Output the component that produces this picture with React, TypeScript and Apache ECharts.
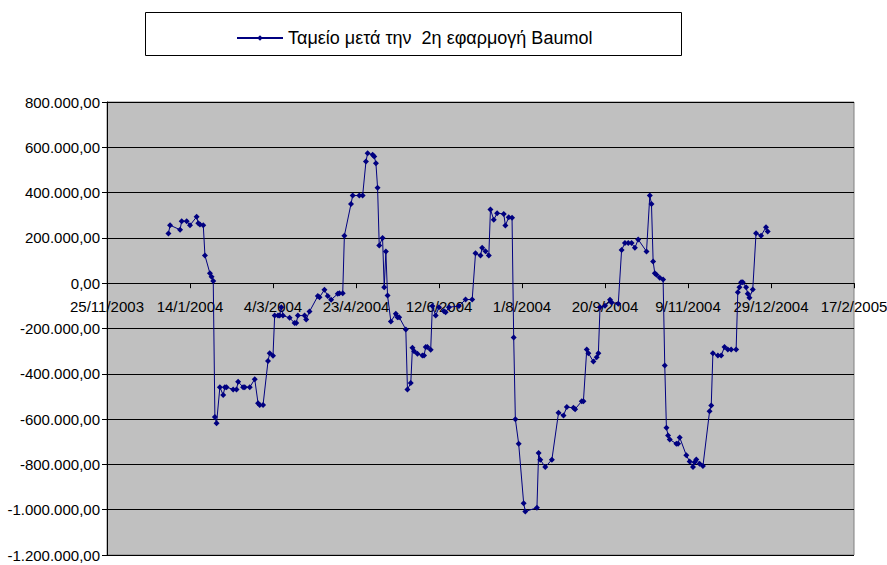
import React, { useEffect, useRef } from "react";
import * as echarts from "echarts";

// Excel date serials (days) of each observation
const dates: number[] = [
  37987, 37988, 37994, 37995, 37998, 38000, 38004, 38005, 38006, 38008,
  38009, 38012, 38013, 38014, 38015, 38016, 38018, 38020, 38021, 38022,
  38026, 38028, 38029, 38032, 38033, 38036, 38039, 38041, 38042, 38044,
  38047, 38048, 38050, 38051, 38053, 38054, 38055, 38056, 38060, 38063,
  38064, 38065, 38069, 38070, 38072, 38077, 38078, 38081, 38083, 38085,
  38089, 38090, 38092, 38093, 38097, 38098, 38102, 38104, 38106, 38107,
  38110, 38111, 38112, 38113, 38114, 38116, 38117, 38118, 38119, 38121,
  38124, 38125, 38126, 38130, 38131, 38133, 38134, 38135, 38137, 38140,
  38141, 38142, 38143, 38145, 38146, 38148, 38150, 38153, 38154, 38156,
  38162, 38166, 38170, 38172, 38175, 38176, 38178, 38180, 38181, 38183,
  38185, 38189, 38190, 38192, 38194, 38195, 38196, 38198, 38201, 38202,
  38209, 38210, 38211, 38214, 38218, 38222, 38225, 38227, 38231, 38232,
  38236, 38237, 38239, 38240, 38243, 38245, 38246, 38247, 38250, 38253,
  38254, 38258, 38260, 38262, 38264, 38266, 38268, 38270, 38275, 38277,
  38278, 38279, 38280, 38281, 38283, 38285, 38286, 38287, 38288, 38289,
  38293, 38294, 38295, 38299, 38301, 38303, 38304, 38305, 38307, 38309,
  38313, 38314, 38315, 38318, 38320, 38322, 38324, 38326, 38329, 38330,
  38331, 38332, 38333, 38335, 38336, 38337, 38339, 38341, 38344, 38347,
  38348,
];

// Cash balance after the 2nd application of Baumol
const values: number[] = [
  219000, 256000, 236000, 274000, 274000, 256000, 293000, 265000, 259000, 256000,
  122000, 44000, 28000, 10000, -591000, -618000, -459000, -494000, -459000, -459000,
  -469000, -469000, -435000, -459000, -459000, -459000, -424000, -530000, -538000, -538000,
  -344000, -309000, -320000, -143000, -143000, -143000, -106000, -143000, -153000, -176000,
  -176000, -143000, -143000, -160000, -125000, -57000, -62000, -29000, -57000, -73000,
  -47000, -44000, -44000, 210000, 350000, 387000, 387000, 387000, 537000, 574000,
  567000, 559000, 530000, 421000, 166000, 200000, -18000, 140000, -54000, -169000,
  -135000, -150000, -150000, -204000, -469000, -441000, -285000, -300000, -312000, -319000,
  -319000, -282000, -282000, -294000, -101000, -143000, -106000, -124000, -128000, -106000,
  -101000, -72000, -72000, 132000, 122000, 156000, 141000, 122000, 325000, 280000,
  309000, 306000, 255000, 291000, 289000, -240000, -601000, -709000, -971000, -1008000,
  -991000, -750000, -779000, -812000, -779000, -572000, -584000, -547000, -550000, -556000,
  -521000, -521000, -293000, -309000, -346000, -327000, -309000, -106000, -100000, -73000,
  -85000, -91000, 147000, 177000, 177000, 177000, 156000, 193000, 140000, 387000,
  350000, 96000, 44000, 37000, 24000, 16000, -363000, -638000, -672000, -690000,
  -709000, -709000, -681000, -760000, -787000, -812000, -790000, -778000, -797000, -807000,
  -565000, -540000, -309000, -319000, -319000, -282000, -293000, -293000, -293000, -40000,
  -18000, 4000, 4000, -18000, -47000, -64000, -28000, 221000, 210000, 247000,
  228000,
];

const seriesName = "Ταμείο μετά την  2η εφαρμογή Baumol";

// axis ranges (Excel serials: 37950 = 25/11/2003, 38400 = 17/2/2005)
const xMin = 37950;
const xMax = 38400;
const xStep = 50;
const yMin = -1200000;
const yMax = 800000;
const yStep = 200000;

const FONT = "Liberation Sans, Arial, sans-serif";

const GRID_TOP = 102;
const GRID_BOTTOM = 10;
const CHART_H = 565;

function fmtNumber(v: number): string {
  const neg = v < 0;
  const a = Math.abs(Math.round(v));
  const s = a.toString().replace(/\B(?=(\d{3})+(?!\d))/g, ".");
  return (neg ? "-" : "") + s + ",00";
}

function fmtDate(serial: number): string {
  const d = new Date((serial - 25569) * 86400000);
  return `${d.getUTCDate()}/${d.getUTCMonth() + 1}/${d.getUTCFullYear()}`;
}

export default function App() {
  const ref = useRef<HTMLDivElement>(null);
  useEffect(() => {
    if (!ref.current) return;
    const chart = echarts.init(ref.current, undefined, { renderer: "svg" });
    const data = dates.map((d, i) => [d, values[i]]);
    const plotH = CHART_H - GRID_TOP - GRID_BOTTOM;
    // distance of the zero line from the bottom of the plot
    const zeroFromBottom = (plotH * (0 - yMin)) / (yMax - yMin);
    chart.setOption({
      animation: false,
      backgroundColor: "#ffffff",
      graphic: [
        {
          type: "rect",
          shape: { x: 145.5, y: 12.5, width: 536, height: 43 },
          style: { fill: "#ffffff", stroke: "#000000", lineWidth: 1 },
          z: -1,
        },
      ],
      legend: {
        show: true,
        left: 236,
        top: 29,
        padding: 0,
        itemWidth: 46,
        itemHeight: 7,
        itemGap: 0,
        data: [seriesName],
        textStyle: { fontFamily: FONT, fontSize: 18, color: "#000000" },
      },
      grid: {
        left: 107,
        right: 33,
        top: GRID_TOP,
        bottom: GRID_BOTTOM,
        show: true,
        outerBoundsMode: "none",
        containLabel: false,
        backgroundColor: "#C0C0C0",
        borderColor: "#808080",
        borderWidth: 1,
      },
      xAxis: {
        type: "value",
        min: xMin,
        max: xMax,
        interval: xStep,
        offset: -zeroFromBottom,
        axisLine: { show: true, onZero: false, lineStyle: { color: "#000000", width: 1 } },
        axisTick: { show: true, length: 5, lineStyle: { color: "#000000" } },
        splitLine: { show: false },
        axisLabel: {
          show: true,
          margin: 16,
          showMinLabel: true,
          showMaxLabel: true,
          hideOverlap: false,
          color: "#000000",
          fontFamily: FONT,
          fontSize: 15,
          formatter: (v: number) => fmtDate(v),
        },
      },
      yAxis: {
        type: "value",
        min: yMin,
        max: yMax,
        interval: yStep,
        axisLine: { show: true, onZero: false, lineStyle: { color: "#000000", width: 1 } },
        axisTick: { show: true, length: 5, lineStyle: { color: "#000000" } },
        splitLine: { show: true, lineStyle: { color: "#000000", width: 1 } },
        axisLabel: {
          show: true,
          margin: 7,
          color: "#000000",
          fontFamily: FONT,
          fontSize: 15,
          formatter: (v: number) => fmtNumber(v),
        },
      },
      series: [
        {
          name: seriesName,
          type: "line",
          data,
          symbol: "diamond",
          symbolSize: 6,
          showSymbol: true,
          showAllSymbol: true,
          lineStyle: { color: "#000080", width: 1 },
          itemStyle: { color: "#000080" },
        },
      ],
    });
    return () => chart.dispose();
  }, []);
  return (
    <div
      ref={ref}
      style={{ position: "absolute", left: 0, top: 0, width: 887, height: 565 }}
    />
  );
}
